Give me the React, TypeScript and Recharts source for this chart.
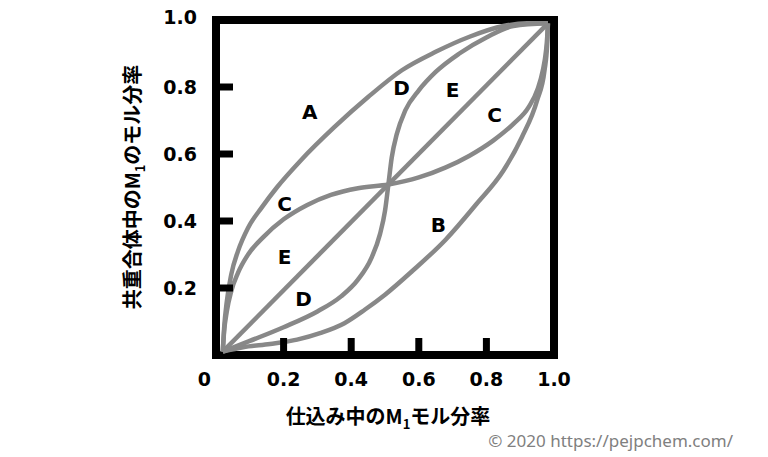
import { LineChart, Line, XAxis, YAxis, ReferenceArea, ReferenceDot } from 'recharts';

// curves (fraction of M1 in feed -> in copolymer)
const DIAG_X = [0.02, 0.982];
const DIAG_Y = [0.01, 0.99];

const A_X = [0.02, 0.024, 0.032, 0.045, 0.065, 0.095, 0.135, 0.18, 0.25, 0.35, 0.45, 0.55, 0.65, 0.75, 0.85, 0.92, 0.982];
const A_Y = [0.01, 0.08, 0.16, 0.24, 0.31, 0.38, 0.44, 0.5, 0.58, 0.68, 0.77, 0.85, 0.905, 0.95, 0.982, 0.99, 0.99];

const B_X = [0.02, 0.08, 0.16, 0.24, 0.31, 0.38, 0.44, 0.5, 0.58, 0.68, 0.77, 0.85, 0.905, 0.95, 0.972, 0.98, 0.982];
const B_Y = [0.01, 0.023, 0.033, 0.046, 0.066, 0.095, 0.135, 0.18, 0.25, 0.345, 0.45, 0.55, 0.65, 0.76, 0.85, 0.93, 0.99];

const C_X = [0.02, 0.024, 0.032, 0.045, 0.065, 0.095, 0.14, 0.2, 0.27, 0.34, 0.42, 0.51, 0.6, 0.68, 0.75, 0.82, 0.88, 0.925, 0.952, 0.967, 0.976, 0.98, 0.982];
const C_Y = [0.01, 0.07, 0.13, 0.19, 0.245, 0.3, 0.352, 0.405, 0.448, 0.478, 0.498, 0.509, 0.53, 0.56, 0.595, 0.64, 0.69, 0.74, 0.795, 0.85, 0.905, 0.95, 0.99];

const D_X = [0.02, 0.1, 0.2, 0.3, 0.37, 0.42, 0.46, 0.485, 0.5, 0.51, 0.52, 0.535, 0.56, 0.6, 0.65, 0.72, 0.8, 0.88, 0.982];
const D_Y = [0.01, 0.042, 0.083, 0.13, 0.175, 0.225, 0.29, 0.36, 0.43, 0.509, 0.59, 0.66, 0.73, 0.79, 0.845, 0.9, 0.948, 0.982, 0.99];

const CURVE_LABELS = ['A', 'D', 'E', 'C', 'C', 'E', 'D', 'B'];
const CURVE_LABEL_X = [0.277, 0.549, 0.7, 0.824, 0.203, 0.203, 0.259, 0.658];
const CURVE_LABEL_Y = [0.725, 0.797, 0.791, 0.716, 0.451, 0.293, 0.167, 0.388];

const X_TICKS = [0, 0.2, 0.4, 0.6, 0.8, 1];
const X_TICK_LABELS = ['0', '0.2', '0.4', '0.6', '0.8', '1.0'];
const Y_TICKS = [0.2, 0.4, 0.6, 0.8, 1];
const Y_TICK_LABELS = ['0.2', '0.4', '0.6', '0.8', '1.0'];

const zip = (xs: number[], ys: number[]) => xs.map((x, i) => ({ x, y: ys[i] }));

const SERIES = [
  zip(DIAG_X, DIAG_Y),
  zip(A_X, A_Y),
  zip(B_X, B_Y),
  zip(C_X, C_Y),
  zip(D_X, D_Y),
];

const CURVE = '#888888';
const NUM_FONT = "'DejaVu Sans', Verdana, sans-serif";
const JP_FONT = "'Noto Sans CJK JP', 'Noto Sans', sans-serif";

function XTick({ x, y, payload }: any) {
  const v = payload.value as number;
  const i = X_TICKS.indexOf(v);
  const inner = v > 0 && v < 1;
  return (
    <g>
      {inner && <line x1={x} x2={x} y1={y} y2={y - 17} stroke="#000" strokeWidth={7} />}
      <text
        x={v === 0 ? x - 5 : x}
        y={y + 18}
        dy="0.71em"
        textAnchor={v === 0 ? 'end' : 'middle'}
        fontFamily={NUM_FONT}
        fontWeight={700}
        fontSize={19}
        fill="#000"
      >
        {X_TICK_LABELS[i]}
      </text>
    </g>
  );
}

function YTick({ x, y, payload }: any) {
  const v = payload.value as number;
  const i = Y_TICKS.indexOf(v);
  return (
    <g>
      {v < 1 && <line x1={x} x2={x + 17} y1={y} y2={y} stroke="#000" strokeWidth={7} />}
      <text
        x={x - 19}
        y={v === 1 ? y - 3 : y}
        dy="0.355em"
        textAnchor="end"
        fontFamily={NUM_FONT}
        fontWeight={700}
        fontSize={19}
        fill="#000"
      >
        {Y_TICK_LABELS[i]}
      </text>
    </g>
  );
}

export default function App() {
  return (
    <div style={{ position: 'absolute', left: 0, top: 0, width: 768, height: 457, background: '#fff' }}>
      <LineChart width={768} height={457} margin={{ top: 20, right: 214, bottom: 62, left: 156 }}>
        <XAxis
          type="number"
          dataKey="x"
          domain={[0, 1]}
          ticks={X_TICKS}
          interval={0}
          axisLine={false}
          tickLine={false}
          tickSize={0}
          tickMargin={0}
          height={40}
          tick={<XTick />}
        />
        <YAxis
          type="number"
          dataKey="y"
          domain={[0, 1]}
          ticks={Y_TICKS}
          interval={0}
          axisLine={false}
          tickLine={false}
          tickSize={0}
          tickMargin={0}
          width={60}
          tick={<YTick />}
        />
        <ReferenceArea x1={0} x2={1} y1={0} y2={1} fill="none" stroke="#000" strokeWidth={8} />
        {SERIES.map((data, i) => (
          <Line
            key={i}
            data={data}
            dataKey="y"
            type="monotone"
            stroke={CURVE}
            strokeWidth={4.5}
            dot={false}
            activeDot={false}
            isAnimationActive={false}
          />
        ))}
        {CURVE_LABELS.map((t, i) => (
          <ReferenceDot
            key={i}
            x={CURVE_LABEL_X[i]}
            y={CURVE_LABEL_Y[i]}
            r={0}
            fill="none"
            stroke="none"
            label={{
              value: t,
              position: 'center',
              fill: '#000',
              fontSize: 20,
              fontWeight: 700,
              fontFamily: NUM_FONT,
            }}
          />
        ))}
      </LineChart>
      <svg width={768} height={457} style={{ position: 'absolute', left: 0, top: 0, pointerEvents: 'none' }}>
        <text x={388} y={424} textAnchor="middle" fontFamily={JP_FONT} fontWeight={700} fontSize={20} fill="#000">
          仕込み中のM<tspan fontSize={13} dy={5}>1</tspan>
          <tspan dy={-5}>モル分率</tspan>
        </text>
        <text
          transform="translate(133,187) rotate(-90)"
          x={0}
          y={7}
          textAnchor="middle"
          fontFamily={JP_FONT}
          fontWeight={700}
          fontSize={20}
          fill="#000"
        >
          共重合体中のM<tspan fontSize={13} dy={5}>1</tspan>
          <tspan dy={-5}>のモル分率</tspan>
        </text>
        <text x={733} y={447} textAnchor="end" fontFamily="'Noto Sans', sans-serif" fontSize={17} fill="#808080">
          © 2020 https://pejpchem.com/
        </text>
      </svg>
    </div>
  );
}
